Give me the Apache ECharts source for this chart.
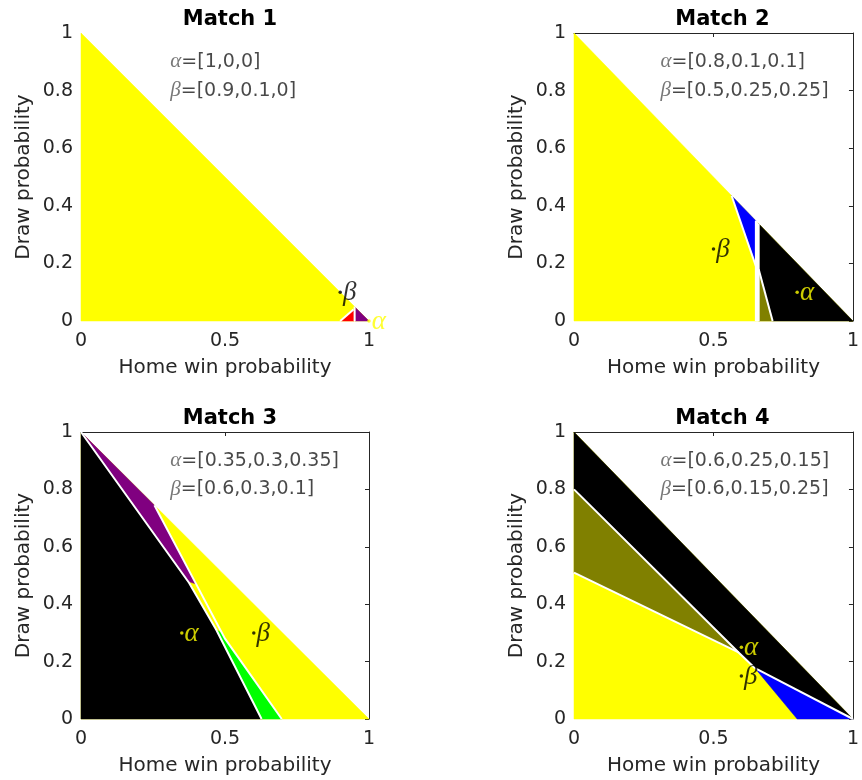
<!DOCTYPE html>
<html><head><meta charset="utf-8">
<script src="https://cdn.jsdelivr.net/npm/echarts@6/dist/echarts.min.js"></script>
<style>html,body{margin:0;padding:0;background:#fff}#c{width:862px;height:780px}</style>
</head><body><div id="c"></div>
<script>
// ---------- data ----------
const matchTitles = ['Match 1', 'Match 2', 'Match 3', 'Match 4'];
const xTicks = [0, 0.5, 1];
const yTicks = [0, 0.2, 0.4, 0.6, 0.8, 1];
const xName = 'Home win probability';
const yName = 'Draw probability';
// [home, draw, away]
const alphaVecs = [[1, 0, 0], [0.8, 0.1, 0.1], [0.35, 0.3, 0.35], [0.6, 0.25, 0.15]];
const betaVecs  = [[0.9, 0.1, 0], [0.5, 0.25, 0.25], [0.6, 0.3, 0.1], [0.6, 0.15, 0.25]];

// decision regions (home, draw) vertices
const simplex = [[0, 0], [0, 1], [1, 0]];
// Match 1
const m1Red    = [[0.905, 0], [0.948, 0], [0.948, 0.038]];
const m1Purple = [[0.952, 0], [1, 0], [0.952, 0.048]];
const m1Borders = [[[0.9, 0], [0.946, 0.04]], [[0.95, 0], [0.95, 0.05]]];
// Match 2
const m2Blue  = [[0.565, 0.435], [0.652, 0.348], [0.652, 0.2]];
const m2Strip = [[0.652, 0], [0.662, 0], [0.662, 0.338], [0.652, 0.348]];
const m2Black = [[0.662, 0.338], [1, 0], [0.712, 0], [0.662, 0.18]];
const m2Olive = [[0.662, 0], [0.712, 0], [0.662, 0.18]];
const m2Borders = [[[0.565, 0.435], [0.652, 0.19]], [[0.652, 0], [0.652, 0.348]],
                   [[0.662, 0], [0.662, 0.338]], [[0.662, 0.18], [0.712, 0]]];
// Match 3
const m3Purple = [[0, 1], [0.255, 0.745], [0.40, 0.47], [0.37, 0.48]];
const m3Black  = [[0, 0], [0, 1], [0.375, 0.475], [0.47, 0.31], [0.627, 0]];
const m3Green  = [[0.47, 0.31], [0.627, 0], [0.697, 0], [0.50, 0.28], [0.49, 0.30]];
const m3Borders = [[[0, 1], [0.375, 0.475], [0.47, 0.31], [0.627, 0]],
                   [[0.255, 0.745], [0.40, 0.47], [0.50, 0.28], [0.697, 0]]];
// Match 4
const m4Black = [[0, 1], [1, 0], [0.649, 0.177], [0.59, 0.232], [0, 0.8]];
const m4Olive = [[0, 0.8], [0.59, 0.232], [0, 0.51]];
const m4Blue  = [[0.649, 0.177], [1, 0], [0.8, 0]];
const m4Borders = [[[0, 0.8], [0.59, 0.232], [0.649, 0.177]], [[0, 0.51], [0.59, 0.232]],
                   [[0.649, 0.177], [1, 0]]];

// ---------- styles ----------
const C = {yellow: '#ffff00', red: '#ff0000', purple: '#800080', blue: '#0000ff',
           black: '#000000', olive: '#808000', green: '#00ff00', white: '#ffffff'};
const regions = [
  [{p: simplex, c: C.yellow}, {p: m1Red, c: C.red}, {p: m1Purple, c: C.purple}],
  [{p: simplex, c: C.yellow}, {p: m2Blue, c: C.blue}, {p: m2Strip, c: C.white},
   {p: m2Black, c: C.black}, {p: m2Olive, c: C.olive}],
  [{p: simplex, c: C.yellow}, {p: m3Purple, c: C.purple}, {p: m3Black, c: C.black},
   {p: m3Green, c: C.green}],
  [{p: simplex, c: C.yellow}, {p: m4Black, c: C.black}, {p: m4Olive, c: C.olive},
   {p: m4Blue, c: C.blue}]
];
const borders = [m1Borders, m2Borders, m3Borders, m4Borders];
const boxed = [false, true, true, true];

const grids = [
  {left: 81, top: 33, width: 288, height: 288},
  {left: 574, top: 33, width: 287, height: 288},
  {left: 81, top: 432, width: 288, height: 287},
  {left: 574, top: 432, width: 287, height: 287}
];
const TXT = '#262626';
const SANS = 'DejaVu Sans';
const SERIF = 'Liberation Serif';

const xAxes = [], yAxes = [], series = [], titles = [];
grids.forEach((g, i) => {
  titles.push({text: matchTitles[i], left: g.left + g.width / 2, top: g.top - 29, textAlign: 'center',
    textStyle: {fontFamily: SANS, fontWeight: 'bold', fontSize: 21, color: '#000'}});
  const xBase = {gridIndex: i, type: 'value', min: xTicks[0], max: xTicks[xTicks.length - 1],
    interval: xTicks[1] - xTicks[0], splitLine: {show: false}};
  const yBase = {gridIndex: i, type: 'value', min: yTicks[0], max: yTicks[yTicks.length - 1],
    interval: yTicks[1] - yTicks[0], splitLine: {show: false}};
  xAxes.push(Object.assign({}, xBase, {position: 'bottom', axisLine: {show: false, onZero: false},
    axisTick: {show: false},
    axisLabel: {fontFamily: SANS, fontSize: 19, color: TXT, margin: 11},
    name: xName, nameLocation: 'middle', nameGap: 37,
    nameTextStyle: {fontFamily: SANS, fontSize: 20, color: TXT}}));
  xAxes.push(Object.assign({}, xBase, {position: 'top', show: boxed[i],
    axisLine: {show: true, onZero: false, lineStyle: {color: TXT, width: 1}},
    axisTick: {show: true, inside: true, length: 4, lineStyle: {color: TXT}},
    axisLabel: {show: false}}));
  yAxes.push(Object.assign({}, yBase, {position: 'left', axisLine: {show: false, onZero: false},
    axisTick: {show: false},
    axisLabel: {fontFamily: SANS, fontSize: 19, color: TXT, margin: 8},
    name: yName, nameLocation: 'middle', nameGap: 47,
    nameTextStyle: {fontFamily: SANS, fontSize: 20, color: TXT}}));
  yAxes.push(Object.assign({}, yBase, {position: 'right', show: boxed[i],
    axisLine: {show: true, onZero: false, lineStyle: {color: TXT, width: 1}},
    axisTick: {show: true, inside: true, length: 4, lineStyle: {color: TXT}},
    axisLabel: {show: false}}));

  const regs = regions[i];
  series.push({type: 'custom', xAxisIndex: 2 * i, yAxisIndex: 2 * i, z: 2, silent: true,
    data: regs.map((r, k) => [k]),
    renderItem: (params, api) => {
      const r = regs[params.dataIndex];
      return {type: 'polygon', shape: {points: r.p.map(pt => api.coord(pt))},
        style: {fill: r.c, stroke: r.c, lineWidth: 0.5}};
    }});
  const bs = borders[i];
  series.push({type: 'custom', xAxisIndex: 2 * i, yAxisIndex: 2 * i, z: 3, silent: true,
    data: bs.map((b, k) => [k]),
    renderItem: (params, api) => {
      const b = bs[params.dataIndex];
      return {type: 'polyline', shape: {points: b.map(pt => api.coord(pt))},
        style: {fill: null, stroke: C.white, lineWidth: 2}};
    }});
  // point labels
  const a = alphaVecs[i], b = betaVecs[i];
  [[a, 'α', C.yellow], [b, 'β', C.black]].forEach(([v, s, col]) => {
    series.push({type: 'scatter', xAxisIndex: 2 * i, yAxisIndex: 2 * i, z: 5, silent: true,
      data: [[v[0], v[1]]], symbol: 'circle', symbolSize: 3.5,
      itemStyle: {color: col},
      label: {show: true, formatter: s, position: 'right', distance: 1,
        fontFamily: SERIF, fontStyle: 'italic', fontSize: 27, color: col, offset: [0, 1]}});
  });
  // annotation text
  [[a, 'α', 0.9], [b, 'β', 0.8]].forEach(([v, s, yy]) => {
    series.push({type: 'scatter', xAxisIndex: 2 * i, yAxisIndex: 2 * i, z: 6, silent: true,
      data: [[0.31, yy]], symbolSize: 0,
      label: {show: true, position: 'right', distance: 0, color: '#222',
        formatter: '{g|' + s + '}{t|=[' + v.join(',') + ']}',
        rich: {g: {fontFamily: SERIF, fontStyle: 'italic', fontSize: 21, color: '#555'},
               t: {fontFamily: SANS, fontSize: 19, color: '#1a1a1a'}}}});
  });
});

const chart = echarts.init(document.getElementById('c'), null, {renderer: 'canvas'});
chart.setOption({animation: false, backgroundColor: '#fff', title: titles, grid: grids,
  xAxis: xAxes, yAxis: yAxes, series: series});
</script></body></html>
